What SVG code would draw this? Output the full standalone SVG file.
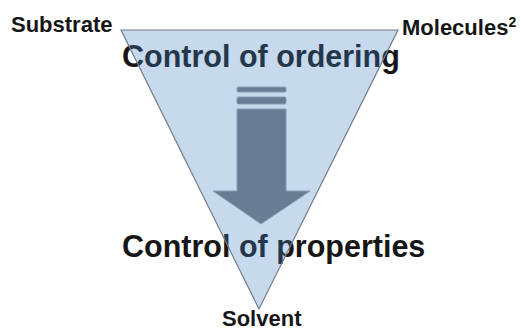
<svg xmlns="http://www.w3.org/2000/svg" width="521" height="330" viewBox="0 0 521 330">
<style>
.lbl{font-family:"Liberation Sans",Arial,sans-serif;font-weight:bold;fill:#161616}
.big{font-size:30.5px}
.sm{font-size:22px}
.tri{fill:rgb(70,128,192);fill-opacity:0.3;stroke:#737d88;stroke-width:1.2}
.arr{fill:#687c93;stroke:#8a9bb0;stroke-width:1}
</style>
<rect width="521" height="330" fill="#ffffff"/>
<g id="title-ordering"><text class="lbl big" x="122" y="67">Control of ordering</text></g>
<g id="title-properties"><text class="lbl big" x="122" y="257">Control of properties</text></g>
<g id="triangle"><polygon class="tri" points="121,30 398,30 259,309"/></g>
<g id="arrow">
<rect class="arr" x="237" y="87" width="49" height="5" rx="1.5"/>
<rect class="arr" x="237" y="97" width="49" height="7" rx="1.5"/>
<polygon class="arr" points="237,109 286,109 286,191 310,191 261,224 213,191 237,191"/>
</g>
<g id="substrate"><text class="lbl sm" x="11" y="32">Substrate</text></g>
<g id="molecules"><text class="lbl sm" x="402" y="35">Molecules<tspan font-size="14" dy="-8">2</tspan></text></g>
<g id="solvent"><text class="lbl sm" x="222" y="326">Solvent</text></g>
</svg>
